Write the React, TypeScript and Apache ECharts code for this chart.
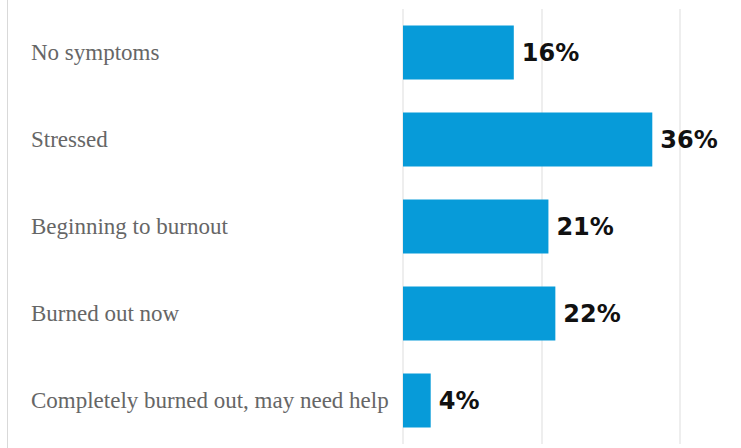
import React, { useEffect, useRef } from "react";
import * as echarts from "echarts";

const categories = [
  "No symptoms",
  "Stressed",
  "Beginning to burnout",
  "Burned out now",
  "Completely burned out, may need help",
];
const values = [16, 36, 21, 22, 4];
const axisMax = 40;
const axisInterval = 20;

export default function App() {
  const ref = useRef<HTMLDivElement>(null);
  useEffect(() => {
    document.body.style.margin = "0";
    const chart = echarts.init(ref.current!, null, { renderer: "svg" });
    chart.setOption({
      animation: false,
      backgroundColor: "#ffffff",
      grid: { left: 403, right: 61, top: 9, bottom: 4 },
      xAxis: {
        type: "value",
        min: 0,
        max: axisMax,
        interval: axisInterval,
        axisLabel: { show: false },
        axisLine: { show: false },
        axisTick: { show: false },
        splitLine: { show: true, lineStyle: { color: "#eeeeee", width: 2 } },
      },
      yAxis: {
        type: "category",
        data: categories,
        inverse: true,
        axisLine: { show: false },
        axisTick: { show: false },
        splitLine: { show: false },
        axisLabel: {
          align: "left",
          margin: 372,
          color: "#666666",
          fontFamily: "Liberation Serif",
          fontSize: 23,
        },
      },
      series: [
        {
          type: "bar",
          data: values,
          barCategoryGap: "38%",
          itemStyle: { color: "#079bd9" },
          label: {
            show: true,
            position: "right",
            distance: 8,
            formatter: "{c}%",
            color: "#111111",
            fontFamily: "DejaVu Sans",
            fontWeight: "bold",
            fontSize: 24,
          },
        },
      ],
      graphic: [
        {
          type: "line",
          shape: { x1: 7.5, y1: 0, x2: 7.5, y2: 448 },
          style: { stroke: "#d9d9d9", lineWidth: 1 },
        },
      ],
    });
    return () => chart.dispose();
  }, []);
  return <div ref={ref} style={{ width: 741, height: 448 }} />;
}
